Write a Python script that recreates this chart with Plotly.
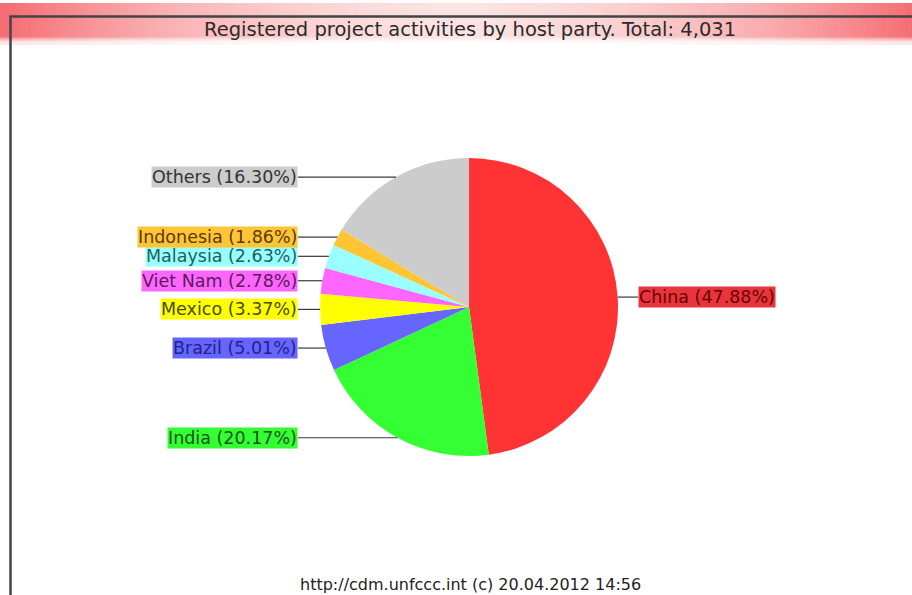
import math
import numpy as np
import plotly.graph_objects as go

# Registered CDM project activities by host party (share of 4,031 projects)
parties = ["China", "India", "Brazil", "Mexico", "Viet Nam", "Malaysia", "Indonesia", "Others"]
shares = [47.88, 20.17, 5.01, 3.37, 2.78, 2.63, 1.86, 16.30]
slice_colors = ["#FF3333", "#33FF33", "#6666FF", "#FFFF00", "#FF66FF", "#99FFFF", "#FFC535", "#CCCCCC"]
label_bg = ["#E8343C", "#33FF33", "#6666FF", "#FFFF00", "#FF66FF", "#99FFFF", "#FFC535", "#CCCCCC"]
label_fg = ["#6A0000", "#145514", "#22228A", "#4A4A00", "#5A1A5A", "#1F5F5F", "#5A3A00", "#333333"]
title_text = "Registered project activities by host party. Total: 4,031"
footer_text = "http://cdm.unfccc.int (c) 20.04.2012 14:56"

W, H = 912, 595
CX, CY, R = 469, 307, 149          # pie centre and radius in pixels
LEFT_LABEL_X, RIGHT_LABEL_X = 298, 638
FONT = "DejaVu Sans"

fig = go.Figure()

# Full-page pixel axes used for the frame, title band, leader lines and labels
fig.update_layout(
    xaxis=dict(range=[0, W], visible=False, fixedrange=True, domain=[0, 1]),
    yaxis=dict(range=[H, 0], visible=False, fixedrange=True, domain=[0, 1]),
)

# Title band: horizontal pink gradient, deeper red towards both ends
band_x = np.linspace(6, W, 60)
band_y = np.array([14, 36, 42])
edge = np.abs(band_x - (6 + W) / 2) / ((W - 6) / 2)
z = np.vstack([edge ** 1.6, edge ** 1.6, edge ** 1.6 * 0.5 - 0.6])
fig.add_trace(go.Heatmap(
    x=band_x, y=band_y, z=z, zsmooth="best", showscale=False, hoverinfo="skip",
    zmin=-0.6, zmax=1,
    colorscale=[[0, "#FFFFFF"], [0.375, "#FCE3E3"], [0.7, "#F9AEB0"], [1, "#F56E74"]],
))

# Pie, starting at 12 o'clock and running clockwise
fig.add_trace(go.Pie(
    labels=parties, values=shares, sort=False, direction="clockwise", rotation=0,
    marker=dict(colors=slice_colors, line=dict(width=0)),
    textinfo="none", hoverinfo="label+percent", showlegend=False,
    domain=dict(x=[(CX - R) / W, (CX + R) / W], y=[1 - (CY + R) / H, 1 - (CY - R) / H]),
))

shapes = []
annotations = []
total = sum(shares)
cum = 0.0
for name, val, bg, fg in zip(parties, shares, label_bg, label_fg):
    mid = (cum + val / 2) / total * 2 * math.pi
    cum += val
    ex = CX + R * math.sin(mid)
    ey = CY - R * math.cos(mid)
    right_side = math.sin(mid) > 0
    lx = RIGHT_LABEL_X if right_side else LEFT_LABEL_X
    shapes.append(dict(type="line", xref="x", yref="y", x0=lx, x1=ex, y0=ey, y1=ey,
                       line=dict(color="#3A3A3A", width=1.2)))
    annotations.append(dict(
        x=lx, y=ey, xref="x", yref="y", text=f"{name} ({val:.2f}%)", showarrow=False,
        xanchor="left" if right_side else "right", yanchor="middle",
        bgcolor=bg, borderpad=0, font=dict(family=FONT, size=17.5, color=fg),
    ))

# Frame around the chart area
shapes.append(dict(type="rect", xref="x", yref="y", x0=10.5, x1=W + 20, y0=16.5, y1=H + 20,
                   line=dict(color="#444444", width=2.5), fillcolor="rgba(0,0,0,0)"))

annotations.append(dict(x=470, y=29, xref="x", yref="y", text=title_text, showarrow=False,
                        xanchor="center", yanchor="middle",
                        font=dict(family=FONT, size=19.5, color="#2A2A2A")))
annotations.append(dict(x=470, y=584, xref="x", yref="y", text=footer_text, showarrow=False,
                        xanchor="center", yanchor="middle",
                        font=dict(family=FONT, size=16, color="#222222")))

fig.update_layout(
    width=W, height=H, margin=dict(l=0, r=0, t=0, b=0),
    paper_bgcolor="white", plot_bgcolor="white",
    shapes=shapes, annotations=annotations, showlegend=False,
)

fig.write_html("out.html")
